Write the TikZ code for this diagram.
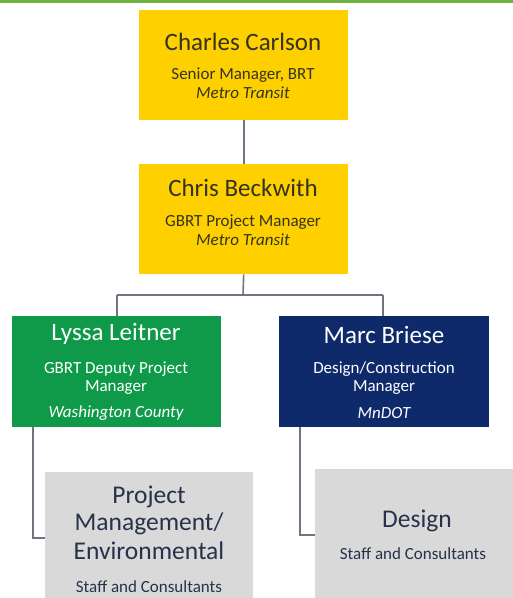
\documentclass[tikz,border=0pt]{standalone}
\usepackage{fontspec}
\setmainfont{Carlito}
\definecolor{gold}{HTML}{FFD000}
\definecolor{bargreen}{HTML}{6DB33F}
\definecolor{boxgreen}{HTML}{0F9A4A}
\definecolor{navy}{HTML}{0E2A6A}
\definecolor{lightgray}{HTML}{D9D9D9}
\definecolor{linegray}{HTML}{6F7580}
\definecolor{darktext}{HTML}{33331F}
\definecolor{graytext}{HTML}{26314A}
\begin{document}
\begin{tikzpicture}[x=1pt,y=-1pt,
  box/.style={draw=none,inner sep=0pt,anchor=north west},
  nm/.style={font=\fontsize{25}{27}\selectfont,inner sep=0pt},
  big/.style={font=\fontsize{25.5}{27}\selectfont,inner sep=0pt},
  sub/.style={font=\fontsize{17}{19}\selectfont,inner sep=0pt},
  conn/.style={draw=linegray,line width=1.6pt}]
\useasboundingbox[fill=white] (0,0) rectangle (513,598);
\fill[bargreen] (0,0) rectangle (513,3);
% boxes
\node[box,fill=gold,minimum width=209pt,minimum height=110pt] (b1) at (139,10) {};
\node[box,fill=gold,minimum width=209pt,minimum height=110pt] (b2) at (139,164) {};
\node[box,fill=boxgreen,minimum width=209pt,minimum height=111pt] (b3) at (12,316) {};
\node[box,fill=navy,minimum width=210pt,minimum height=111pt] (b4) at (279,316) {};
\node[box,fill=lightgray,minimum width=208pt,minimum height=126pt] (b5) at (45,472) {};
\node[box,fill=lightgray,minimum width=198pt,minimum height=129pt] (b6) at (315,469) {};
% connectors
\coordinate (j) at (243,295);
\coordinate (jl) at (117,295);
\coordinate (jr) at (383,295);
\draw[conn] (b1.south) -- (b2.north);
\draw[conn] (b2.south) -- (j);
\draw[conn] (jl) -- (jr);
\draw[conn] (jl) -- (jl |- b3.north);
\draw[conn] (jr) -- (jr |- b4.north);
\coordinate (l1) at (33,538);
\coordinate (l2) at (300,535);
\draw[conn] (l1 |- b3.south) -- (l1) -- (l1 -| b5.west);
\draw[conn] (l2 |- b4.south) -- (l2) -- (l2 -| b6.west);
% texts
\node[nm,text=darktext] (t1a) at (243,42) {Charles Carlson};
\node[sub,text=darktext] (t1b) at (243,75) {Senior Manager, BRT};
\node[sub,text=darktext] (t1c) at (243,93) {\itshape Metro Transit};
\node[nm,text=darktext] (t2a) at (243,188) {Chris Beckwith};
\node[sub,text=darktext] (t2b) at (243,222) {GBRT Project Manager};
\node[sub,text=darktext] (t2c) at (243,240) {\itshape Metro Transit};
\node[nm,text=white] (t3a) at (116,334) {Lyssa Leitner};
\node[sub,text=white] (t3b) at (116,369) {GBRT Deputy Project};
\node[sub,text=white] (t3c) at (116,388) {Manager};
\node[sub,text=white] (t3d) at (116,413) {\itshape Washington County};
\node[nm,text=white] (t4a) at (384,335) {Marc Briese};
\node[sub,text=white] (t4b) at (384,369) {Design/Construction};
\node[sub,text=white] (t4c) at (384,388) {Manager};
\node[sub,text=white] (t4d) at (384,413) {\itshape MnDOT};
\node[big,text=graytext] (t5a) at (149,497) {Project};
\node[big,text=graytext] (t5b) at (149,524) {Management/};
\node[big,text=graytext] (t5c) at (149,551) {Environmental};
\node[sub,text=graytext] (t5d) at (149,587) {Staff and Consultants};
\node[big,text=graytext] (t6a) at (417,521) {Design};
\node[sub,text=graytext] (t6b) at (413,554) {Staff and Consultants};
\end{tikzpicture}
\end{document}
